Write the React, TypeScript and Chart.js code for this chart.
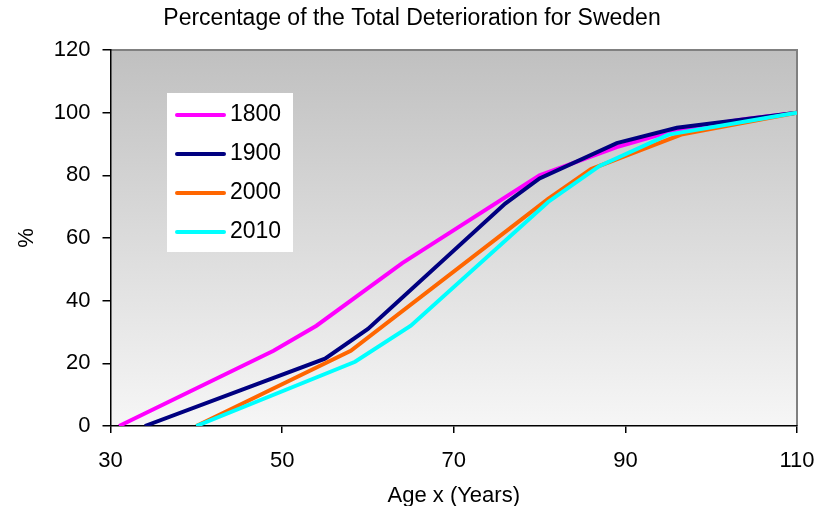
import React, { useEffect, useRef } from "react";
import { Chart, registerables } from "chart.js";

Chart.register(...registerables);

const seriesNames = ["1800", "1900", "2000", "2010"];
const seriesColors = ["#FF00FF", "#000080", "#FF6600", "#00FFFF"];

const age1800 = [31, 49, 54, 64, 80, 89, 96, 104, 110];
const pct1800 = [0, 24, 32, 52, 80, 89, 94.5, 98, 100];
const age1900 = [34, 55, 60, 76, 80, 89, 96, 110];
const pct1900 = [0, 21.5, 31, 71, 79, 90.3, 95.2, 100];
const age2000 = [40, 58, 81, 86, 96.5, 110];
const pct2000 = [0, 24, 72.5, 82, 93, 100];
const age2010 = [40, 58.5, 65, 81, 87, 95, 110];
const pct2010 = [0, 20.5, 32, 71.5, 83, 93, 100];

const xTicks = [30, 50, 70, 90, 110];
const yTicks = [0, 20, 40, 60, 80, 100, 120];

const chartTitle = "Percentage of the Total Deterioration for Sweden";
const xTitle = "Age x (Years)";
const yTitle = "%";

const FONT = "'Liberation Sans', Arial, sans-serif";

const toPoints = (xs: number[], ys: number[]) => xs.map((x, i) => ({ x, y: ys[i] }));

export default function App() {
  const ref = useRef<HTMLCanvasElement | null>(null);
  useEffect(() => {
    if (!ref.current) return;
    const all = [
      toPoints(age1800, pct1800),
      toPoints(age1900, pct1900),
      toPoints(age2000, pct2000),
      toPoints(age2010, pct2010),
    ];
    const bgPlugin = {
      id: "bg",
      beforeDraw(chart: any) {
        const { ctx, chartArea: a } = chart;
        const g = ctx.createLinearGradient(0, a.top, 0, a.bottom);
        g.addColorStop(0, "#c0c0c0");
        g.addColorStop(1, "#f6f6f6");
        ctx.save();
        ctx.fillStyle = g;
        ctx.fillRect(a.left, a.top, a.right - a.left, a.bottom - a.top);
        ctx.strokeStyle = "#808080";
        ctx.lineWidth = 2;
        ctx.beginPath();
        ctx.moveTo(a.left, a.top);
        ctx.lineTo(a.right, a.top);
        ctx.lineTo(a.right, a.bottom);
        ctx.stroke();
        ctx.fillStyle = "#000";
        ctx.textAlign = "center";
        ctx.textBaseline = "middle";
        ctx.font = `23px ${FONT}`;
        ctx.fillText(chartTitle, 412, 19);
        ctx.font = `22px ${FONT}`;
        ctx.fillText(xTitle, (a.left + a.right) / 2, 496);
        ctx.save();
        ctx.translate(27, (a.top + a.bottom) / 2);
        ctx.rotate(-Math.PI / 2);
        ctx.fillText(yTitle, 0, 0);
        ctx.restore();
        ctx.restore();
      },
      afterDatasetsDraw(chart: any) {
        const { ctx } = chart;
        ctx.save();
        ctx.fillStyle = "#ffffff";
        ctx.fillRect(167, 93, 126, 159);
        const ys = [115, 154, 193, 232];
        ctx.font = `23px ${FONT}`;
        ctx.textAlign = "left";
        ctx.textBaseline = "middle";
        seriesNames.forEach((n, i) => {
          ctx.strokeStyle = seriesColors[i];
          ctx.lineWidth = 4;
          ctx.lineCap = "round";
          ctx.beginPath();
          ctx.moveTo(177, ys[i]);
          ctx.lineTo(224, ys[i]);
          ctx.stroke();
          ctx.fillStyle = "#000";
          ctx.fillText(n, 230, ys[i]);
        });
        ctx.restore();
      },
    };
    const chart = new Chart(ref.current, {
      type: "line",
      data: {
        datasets: seriesNames.map((n, i) => ({
          label: n,
          data: all[i],
          borderColor: seriesColors[i],
          backgroundColor: seriesColors[i],
          borderWidth: 4,
          pointRadius: 0,
          tension: 0,
          fill: false,
          order: 4 - i,
        })),
      },
      options: {
        animation: false,
        responsive: false,
        maintainAspectRatio: false,
        layout: { padding: { left: 0, top: 50, right: 25, bottom: 0 } },
        plugins: { legend: { display: false }, title: { display: false }, tooltip: { enabled: false } },
        scales: {
          x: {
            type: "linear",
            min: 30,
            max: 110,
            afterBuildTicks: (s: any) => { s.ticks = xTicks.map((v) => ({ value: v })); },
            afterFit: (s: any) => { s.height = 80; s.paddingLeft = 0; s.paddingRight = 0; },
            grid: { display: true, drawOnChartArea: false, drawTicks: true, tickLength: 7, color: "#000", lineWidth: 1.5 },
            border: { display: true, color: "#000", width: 1.5 },
            ticks: { color: "#000", font: { family: FONT, size: 22 }, padding: 15, maxRotation: 0 },
          },
          y: {
            type: "linear",
            min: 0,
            max: 120,
            afterBuildTicks: (s: any) => { s.ticks = yTicks.map((v) => ({ value: v })); },
            afterFit: (s: any) => { s.width = 110.5; s.paddingTop = 0; s.paddingBottom = 0; },
            grid: { display: true, drawOnChartArea: false, drawTicks: true, tickLength: 8, color: "#000", lineWidth: 1.5 },
            border: { display: true, color: "#000", width: 1.5 },
            ticks: { color: "#000", font: { family: FONT, size: 22 }, padding: 12 },
          },
        },
      },
      plugins: [bgPlugin],
    } as any);
    return () => chart.destroy();
  }, []);
  return (
    <div style={{ position: "absolute", left: 0, top: 0, width: 822, height: 506, background: "#fff" }}>
      <canvas ref={ref} width={822} height={506} style={{ width: 822, height: 506 }} />
    </div>
  );
}
